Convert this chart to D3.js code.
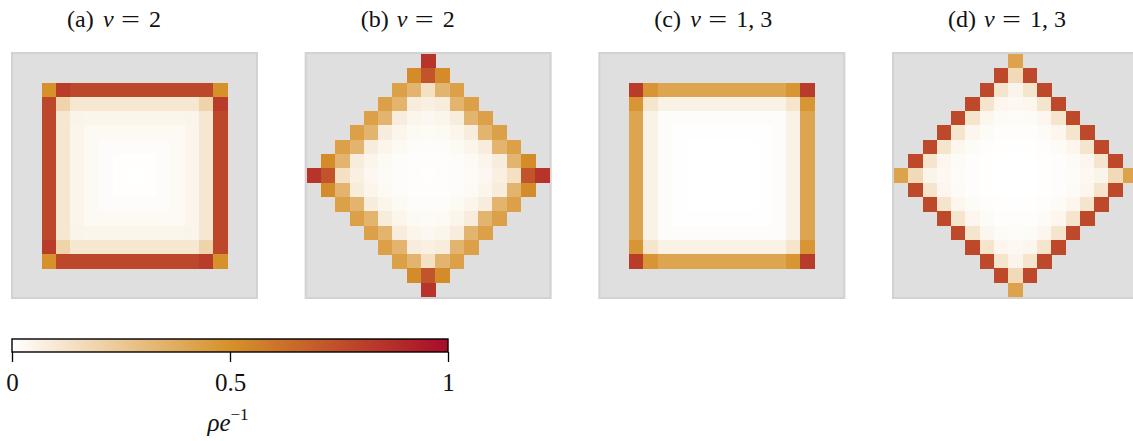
<!DOCTYPE html>
<html>
<head>
    <title>rho grids</title>
    <style>
        body { margin: 0; background: #fff; }
        text { font-family: 'Liberation Serif', 'DejaVu Serif', serif; fill: #111; white-space: pre; }
    </style>
</head>
<body>
<script src="https://d3js.org/d3.v7.min.js"></script>
<script>
    var _ = null; // outside the lattice (drawn as grey)

    var panelIds = ['(a)', '(b)', '(c)', '(d)'];
    var panelNu = ['2', '2', '1, 3', '1, 3'];

    // (a) square lattice, nu = 2
    var gridA = [
        [_,_,_,_,_,_,_,_,_,_,_,_,_,_,_,_,_],
        [_,_,_,_,_,_,_,_,_,_,_,_,_,_,_,_,_],
        [_,_,.5,.82,.78,.78,.78,.78,.78,.78,.78,.78,.78,.78,.5,_,_],
        [_,_,.78,.2,.11,.11,.11,.11,.11,.11,.11,.11,.11,.2,.82,_,_],
        [_,_,.78,.11,.05,.045,.045,.045,.045,.045,.045,.045,.05,.11,.78,_,_],
        [_,_,.78,.11,.045,.025,.025,.025,.025,.025,.025,.025,.045,.11,.78,_,_],
        [_,_,.78,.11,.045,.025,.012,.012,.012,.012,.012,.025,.045,.11,.78,_,_],
        [_,_,.78,.11,.045,.025,.012,.006,.006,.006,.012,.025,.045,.11,.78,_,_],
        [_,_,.78,.11,.045,.025,.012,.006,0,.006,.012,.025,.045,.11,.78,_,_],
        [_,_,.78,.11,.045,.025,.012,.006,.006,.006,.012,.025,.045,.11,.78,_,_],
        [_,_,.78,.11,.045,.025,.012,.012,.012,.012,.012,.025,.045,.11,.78,_,_],
        [_,_,.78,.11,.045,.025,.025,.025,.025,.025,.025,.025,.045,.11,.78,_,_],
        [_,_,.78,.11,.05,.045,.045,.045,.045,.045,.045,.045,.05,.11,.78,_,_],
        [_,_,.82,.2,.11,.11,.11,.11,.11,.11,.11,.11,.11,.2,.78,_,_],
        [_,_,.5,.78,.78,.78,.78,.78,.78,.78,.78,.78,.78,.82,.5,_,_],
        [_,_,_,_,_,_,_,_,_,_,_,_,_,_,_,_,_],
        [_,_,_,_,_,_,_,_,_,_,_,_,_,_,_,_,_]
    ];

    // (b) diamond lattice, nu = 2
    var gridB = [
        [_,_,_,_,_,_,_,_,.85,_,_,_,_,_,_,_,_],
        [_,_,_,_,_,_,_,.52,.73,.52,_,_,_,_,_,_,_],
        [_,_,_,_,_,_,.43,.34,.14,.34,.43,_,_,_,_,_,_],
        [_,_,_,_,_,.43,.34,.08,.07,.08,.34,.43,_,_,_,_,_],
        [_,_,_,_,.43,.34,.08,.045,.035,.045,.08,.34,.43,_,_,_,_],
        [_,_,_,.43,.34,.08,.045,.025,.02,.025,.045,.08,.34,.43,_,_,_],
        [_,_,.43,.34,.08,.045,.025,.015,.012,.015,.025,.045,.08,.34,.43,_,_],
        [_,.52,.34,.08,.045,.025,.015,.008,.008,.008,.015,.025,.045,.08,.34,.52,_],
        [.85,.73,.14,.07,.035,.02,.012,.008,.005,.008,.012,.02,.035,.07,.14,.73,.85],
        [_,.52,.34,.08,.045,.025,.015,.008,.008,.008,.015,.025,.045,.08,.34,.52,_],
        [_,_,.43,.34,.08,.045,.025,.015,.012,.015,.025,.045,.08,.34,.43,_,_],
        [_,_,_,.43,.34,.08,.045,.025,.02,.025,.045,.08,.34,.43,_,_,_],
        [_,_,_,_,.43,.34,.08,.045,.035,.045,.08,.34,.43,_,_,_,_],
        [_,_,_,_,_,.43,.34,.08,.07,.08,.34,.43,_,_,_,_,_],
        [_,_,_,_,_,_,.43,.34,.14,.34,.43,_,_,_,_,_,_],
        [_,_,_,_,_,_,_,.52,.73,.52,_,_,_,_,_,_,_],
        [_,_,_,_,_,_,_,_,.85,_,_,_,_,_,_,_,_]
    ];

    // (c) square lattice, nu = 1, 3
    var gridC = [
        [_,_,_,_,_,_,_,_,_,_,_,_,_,_,_,_,_],
        [_,_,_,_,_,_,_,_,_,_,_,_,_,_,_,_,_],
        [_,_,.82,.48,.41,.41,.41,.41,.41,.41,.41,.41,.41,.48,.82,_,_],
        [_,_,.48,.12,.06,.06,.06,.06,.06,.06,.06,.06,.06,.12,.48,_,_],
        [_,_,.41,.06,.012,.012,.012,.012,.012,.012,.012,.012,.012,.06,.41,_,_],
        [_,_,.41,.06,.012,.003,.003,.003,.003,.003,.003,.003,.012,.06,.41,_,_],
        [_,_,.41,.06,.012,.003,0,0,0,0,0,.003,.012,.06,.41,_,_],
        [_,_,.41,.06,.012,.003,0,0,0,0,0,.003,.012,.06,.41,_,_],
        [_,_,.41,.06,.012,.003,0,0,0,0,0,.003,.012,.06,.41,_,_],
        [_,_,.41,.06,.012,.003,0,0,0,0,0,.003,.012,.06,.41,_,_],
        [_,_,.41,.06,.012,.003,0,0,0,0,0,.003,.012,.06,.41,_,_],
        [_,_,.41,.06,.012,.003,.003,.003,.003,.003,.003,.003,.012,.06,.41,_,_],
        [_,_,.41,.06,.012,.012,.012,.012,.012,.012,.012,.012,.012,.06,.41,_,_],
        [_,_,.48,.12,.06,.06,.06,.06,.06,.06,.06,.06,.06,.12,.48,_,_],
        [_,_,.82,.48,.41,.41,.41,.41,.41,.41,.41,.41,.41,.48,.82,_,_],
        [_,_,_,_,_,_,_,_,_,_,_,_,_,_,_,_,_],
        [_,_,_,_,_,_,_,_,_,_,_,_,_,_,_,_,_]
    ];

    // (d) diamond lattice, nu = 1, 3
    var gridD = [
        [_,_,_,_,_,_,_,_,.42,_,_,_,_,_,_,_,_],
        [_,_,_,_,_,_,_,.77,.17,.77,_,_,_,_,_,_,_],
        [_,_,_,_,_,_,.77,.12,.05,.12,.77,_,_,_,_,_,_],
        [_,_,_,_,_,.77,.12,.04,.03,.04,.12,.77,_,_,_,_,_],
        [_,_,_,_,.77,.12,.04,.02,.015,.02,.04,.12,.77,_,_,_,_],
        [_,_,_,.77,.12,.04,.02,.01,.008,.01,.02,.04,.12,.77,_,_,_],
        [_,_,.77,.12,.04,.02,.01,.004,.003,.004,.01,.02,.04,.12,.77,_,_],
        [_,.77,.12,.04,.02,.01,.004,0,0,0,.004,.01,.02,.04,.12,.77,_],
        [.42,.17,.05,.03,.015,.008,.003,0,0,0,.003,.008,.015,.03,.05,.17,.42],
        [_,.77,.12,.04,.02,.01,.004,0,0,0,.004,.01,.02,.04,.12,.77,_],
        [_,_,.77,.12,.04,.02,.01,.004,.003,.004,.01,.02,.04,.12,.77,_,_],
        [_,_,_,.77,.12,.04,.02,.01,.008,.01,.02,.04,.12,.77,_,_,_],
        [_,_,_,_,.77,.12,.04,.02,.015,.02,.04,.12,.77,_,_,_,_],
        [_,_,_,_,_,.77,.12,.04,.03,.04,.12,.77,_,_,_,_,_],
        [_,_,_,_,_,_,.77,.12,.05,.12,.77,_,_,_,_,_,_],
        [_,_,_,_,_,_,_,.77,.17,.77,_,_,_,_,_,_,_],
        [_,_,_,_,_,_,_,_,.42,_,_,_,_,_,_,_,_]
    ];

    var grids = [gridA, gridB, gridC, gridD];

    var cbTicks = [0, 0.5, 1];
    var cbTickLabels = ['0', '0.5', '1'];

    var width = 1133,
        height = 441,
        boxSize = 247,
        boxTop = 52;

    var color = d3.scaleLinear()
        .domain([0, 0.5, 1])
        .range(['#ffffff', '#d6912a', '#a80c2a'])
        .clamp(true);

    var panelX = d3.scaleLinear().domain([0, 3]).range([11, 892]);

    var svg = d3.select('body').append('svg')
        .attr('width', width)
        .attr('height', height);

    grids.forEach(function (grid, p) {
        var x0 = panelX(p);
        var g = svg.append('g').attr('transform', 'translate(' + x0 + ',' + boxTop + ')');

        // grey axes area with light frame
        g.append('rect')
            .attr('x', 1).attr('y', 1)
            .attr('width', boxSize - 2).attr('height', boxSize - 2)
            .attr('fill', '#dfdfdf')
            .attr('stroke', '#d2d2d2')
            .attr('stroke-width', 2);

        var cx = d3.scaleBand().domain(d3.range(grid[0].length)).range([2, boxSize - 2]);
        var cy = d3.scaleBand().domain(d3.range(grid.length)).range([2, boxSize - 2]);

        var cells = [];
        grid.forEach(function (row, i) {
            row.forEach(function (v, j) {
                if (v !== null) cells.push({ i: i, j: j, v: v });
            });
        });

        g.selectAll('rect.cell')
            .data(cells)
            .enter().append('rect')
            .attr('class', 'cell')
            .attr('x', function (d) { return cx(d.j); })
            .attr('y', function (d) { return cy(d.i); })
            .attr('width', cx.bandwidth() + 0.4)
            .attr('height', cy.bandwidth() + 0.4)
            .attr('fill', function (d) { return color(d.v); })
            .attr('shape-rendering', 'crispEdges');

        // panel title, pieces spaced like the math typesetting
        var t = svg.append('g')
            .attr('transform', 'translate(' + (x0 + 56) + ',27)')
            .style('font-size', '24px');
        t.append('text').attr('x', 0).text(panelIds[p]);
        t.append('text').attr('x', 36).style('font-style', 'italic').text('\u03bd');
        t.append('text').attr('transform', 'translate(54,0) scale(1.4,1)').text('=');
        t.append('text').attr('x', 82).text(panelNu[p]);
    });

    // colorbar
    var cbX = d3.scaleLinear().domain([0, 1]).range([12, 448]),
        cbTop = 339,
        cbH = 13;

    var grad = svg.append('defs').append('linearGradient')
        .attr('id', 'cbgrad')
        .attr('x1', '0%').attr('x2', '100%');
    grad.selectAll('stop')
        .data(d3.range(0, 1.0001, 0.05))
        .enter().append('stop')
        .attr('offset', function (d) { return (d * 100) + '%'; })
        .attr('stop-color', function (d) { return color(d); });

    svg.append('rect')
        .attr('x', cbX(0)).attr('y', cbTop)
        .attr('width', cbX(1) - cbX(0)).attr('height', cbH)
        .attr('fill', 'url(#cbgrad)')
        .attr('stroke', '#000')
        .attr('stroke-width', 1.4);

    var axis = d3.axisBottom(cbX)
        .tickValues(cbTicks)
        .tickSize(10)
        .tickPadding(11)
        .tickFormat(function (d, i) { return cbTickLabels[i]; });

    var ax = svg.append('g')
        .attr('transform', 'translate(0,' + (cbTop + cbH) + ')')
        .call(axis);
    ax.select('.domain').remove();
    ax.selectAll('line').attr('stroke', '#000').attr('stroke-width', 1.3);
    ax.selectAll('text')
        .style('font-family', "'Liberation Serif', serif")
        .style('font-size', '25px')
        .attr('fill', '#111');

    var lab = svg.append('text')
        .attr('x', cbX(0.5) - 2)
        .attr('y', 431)
        .attr('text-anchor', 'middle')
        .style('font-size', '25px');
    lab.append('tspan').style('font-style', 'italic').text('\u03c1e');
    lab.append('tspan')
        .attr('dy', -11)
        .style('font-size', '17px')
        .text('\u22121');
</script>
</body>
</html>
